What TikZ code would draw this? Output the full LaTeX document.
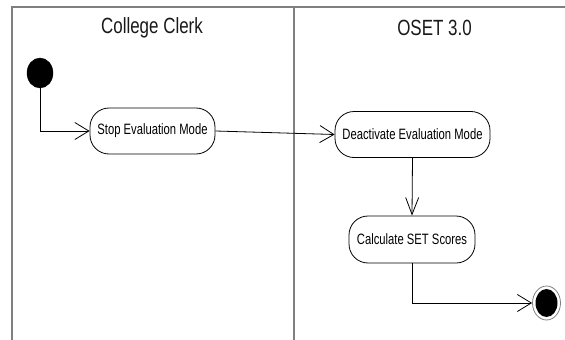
\documentclass[tikz,border=0pt]{standalone}
\usepackage{fontspec}
\setmainfont{Liberation Sans}
\usetikzlibrary{arrows.meta,shapes.geometric}
\newcommand{\titletxt}[1]{\scalebox{0.77}[1]{\fontsize{22}{24}\selectfont #1}}
\newcommand{\acttxt}[1]{\scalebox{0.75}[1]{\fontsize{15}{17}\selectfont #1}}
\tikzset{
  lane/.style={draw=gray, line width=1.6pt},
  activity/.style={draw=black, line width=0.8pt, rounded corners=19pt, minimum height=46pt, inner sep=0pt, text=black},
  conn/.style={draw=black, line width=0.8pt},
  harrow/.style={-{Straight Barb[length=14pt,width=17pt,line width=0.8pt]}},
  varrow/.style={-{Straight Barb[length=17pt,width=13pt,line width=0.8pt]}},
  lanetitle/.style={text=black!90, inner sep=0pt}
}
\begin{document}
\begin{tikzpicture}[x=1pt,y=-1pt]
\useasboundingbox (0,0) rectangle (565,340);
\fill[white] (0,0) rectangle (565,340);
% swimlane frame
\coordinate (tl) at (12,7);
\coordinate (tr) at (566,7);
\coordinate (bl) at (12,341);
\coordinate (dt) at (294,7);
\coordinate (db) at (294,341);
\draw[lane] (bl) -- (tl) -- (tr);
\draw[lane] (dt) -- (db);
\node[lanetitle] (t1) at (152,28) {\titletxt{College Clerk}};
\node[lanetitle] (t2) at (434.5,28) {\titletxt{OSET 3.0}};
% nodes
\node[ellipse, fill=black, draw=black, minimum width=26pt, minimum height=30pt, inner sep=0pt] (init) at (40,73) {};
\node[activity, minimum width=125pt] (stop) at (152.5,131) {\acttxt{Stop Evaluation Mode}};
\node[activity, minimum width=155pt] (deact) at (412.5,134.5) {\acttxt{Deactivate Evaluation Mode}};
\node[activity, minimum width=126pt, minimum height=47pt] (calc) at (412,239.5) {\acttxt{Calculate SET Scores}};
\node[ellipse, draw=gray, line width=0.8pt, minimum width=28pt, minimum height=34pt, inner sep=0pt] (final) at (546.5,303) {};
\node[ellipse, fill=black, minimum width=22pt, minimum height=28pt, inner sep=0pt] (finalin) at (final.center) {};
% connectors
\draw[conn, harrow] (init.south) |- (stop.west);
\draw[conn, harrow] (stop.east) -- (deact.west);
\draw[conn, varrow] (deact.south) -- (calc.north);
\draw[conn, harrow] (calc.south) |- (final.west);
\end{tikzpicture}
\end{document}
